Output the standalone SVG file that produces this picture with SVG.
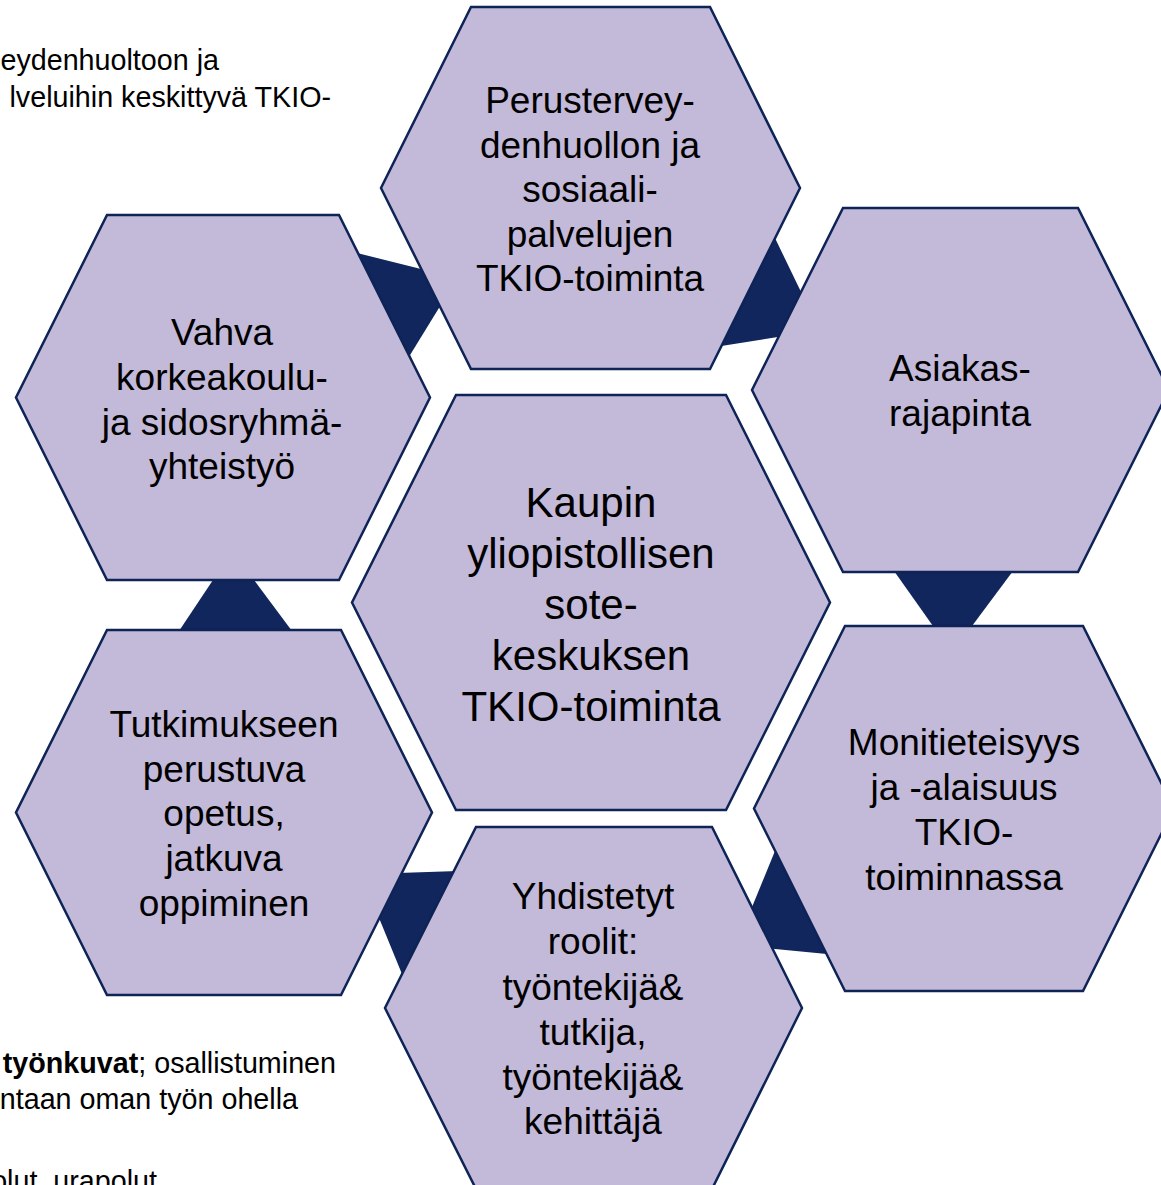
<svg xmlns="http://www.w3.org/2000/svg" width="1161" height="1185" viewBox="0 0 1161 1185">
<style>
.hex{fill:#C3B9D8;stroke:#0E2356;stroke-width:2.5;stroke-linejoin:miter}
.con{fill:#10265C;stroke:none}
.t{font-family:"Liberation Sans",Arial,sans-serif;font-size:37px;fill:#000;text-anchor:middle}
.tc{font-family:"Liberation Sans",Arial,sans-serif;font-size:42px;fill:#000;text-anchor:middle}
.bg{font-family:"Liberation Sans",Arial,sans-serif;font-size:28.7px;fill:#000;text-anchor:end}
</style>
<rect width="1161" height="1185" fill="#fff"/>
<g id="background-text">
<text class="bg" x="219" y="70">eydenhuoltoon ja</text>
<text class="bg" x="331" y="107">lveluihin keskittyvä TKIO-</text>
<text class="bg" x="336" y="1073"><tspan font-weight="bold">työnkuvat</tspan>; osallistuminen</text>
<text class="bg" x="298" y="1109">ntaan oman työn ohella</text>
<text class="bg" x="157" y="1191">polut, urapolut</text>
</g>
<g id="connectors">
<polygon class="con" points="353,252 425,270 442,303 407,360"/>
<polygon class="con" points="774,236 803,296 784,336 715,347"/>
<polygon class="con" points="890.5,566 1016.7,566 968.3,631 936.5,631"/>
<polygon class="con" points="777,846 832,954.5 770,948.5 750,912"/>
<polygon class="con" points="458,871 404,979 377,913 398,873"/>
<polygon class="con" points="216.3,575 250.3,575 295.7,636 175.7,636"/>
</g>
<g id="hex-top">
<polygon class="hex" points="471,7 710,7 800,188 710,369 471,369 381,188"/>
<text class="t" x="590" y="113">Perustervey-</text>
<text class="t" x="590" y="158">denhuollon ja</text>
<text class="t" x="590" y="202">sosiaali-</text>
<text class="t" x="590" y="247">palvelujen</text>
<text class="t" x="590" y="291">TKIO-toiminta</text>
</g>
<g id="hex-vahva">
<polygon class="hex" points="107,215 339,215 430,397.5 339,580 107,580 16,397.5"/>
<text class="t" x="222" y="345">Vahva</text>
<text class="t" x="222" y="390">korkeakoulu-</text>
<text class="t" x="222" y="435">ja sidosryhmä-</text>
<text class="t" x="222" y="479">yhteistyö</text>
</g>
<g id="hex-asiakas">
<polygon class="hex" points="843,208 1078,208 1169,390 1078,572 843,572 752,390"/>
<text class="t" x="960" y="381">Asiakas-</text>
<text class="t" x="960" y="426">rajapinta</text>
</g>
<g id="hex-center">
<polygon class="hex" points="456,395 726,395 830,602.5 726,810 456,810 352,602.5"/>
<text class="tc" x="591" y="517">Kaupin</text>
<text class="tc" x="591" y="568">yliopistollisen</text>
<text class="tc" x="591" y="619">sote-</text>
<text class="tc" x="591" y="670">keskuksen</text>
<text class="tc" x="591" y="721">TKIO-toiminta</text>
</g>
<g id="hex-tutkimus">
<polygon class="hex" points="107,630 341,630 432,812.5 341,995 107,995 16,812.5"/>
<text class="t" x="224" y="737">Tutkimukseen</text>
<text class="t" x="224" y="782">perustuva</text>
<text class="t" x="224" y="826">opetus,</text>
<text class="t" x="224" y="871">jatkuva</text>
<text class="t" x="224" y="916">oppiminen</text>
</g>
<g id="hex-monitieteisyys">
<polygon class="hex" points="845,626 1083,626 1174,808.5 1083,991 845,991 754,808.5"/>
<text class="t" x="964" y="755">Monitieteisyys</text>
<text class="t" x="964" y="800">ja -alaisuus</text>
<text class="t" x="964" y="845">TKIO-</text>
<text class="t" x="964" y="890">toiminnassa</text>
</g>
<g id="hex-yhdistetyt">
<polygon class="hex" points="476,827 712,827 802,1008 712,1189 476,1189 385,1008"/>
<text class="t" x="593" y="909">Yhdistetyt</text>
<text class="t" x="593" y="954">roolit:</text>
<text class="t" x="593" y="1000">työntekijä&amp;</text>
<text class="t" x="593" y="1045">tutkija,</text>
<text class="t" x="593" y="1090">työntekijä&amp;</text>
<text class="t" x="593" y="1134">kehittäjä</text>
</g>
</svg>
